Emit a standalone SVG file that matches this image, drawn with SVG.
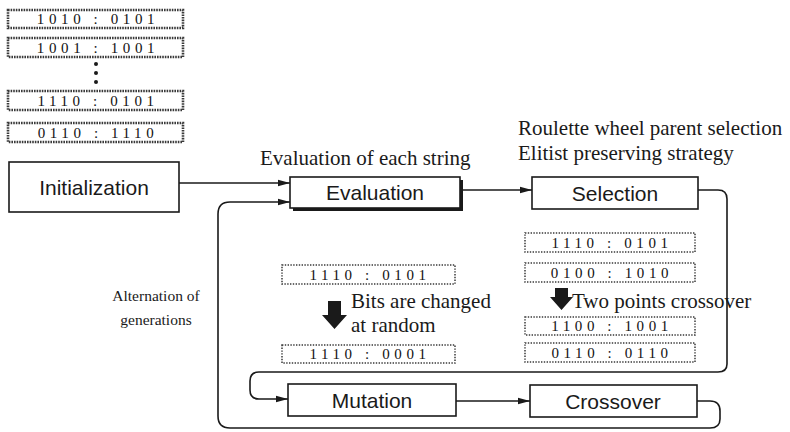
<svg xmlns="http://www.w3.org/2000/svg" width="790" height="432" viewBox="0 0 790 432">
  <style>
    .node { fill: #fff; stroke: #1a1a1a; stroke-width: 1.6; }
    .label { font-family: "Liberation Sans", Arial, sans-serif; font-size: 21px; fill: #1a1a1a; text-anchor: middle; }
    .note { font-family: "Liberation Serif", "Times New Roman", serif; font-size: 21px; fill: #1a1a1a; }
    .small { font-family: "Liberation Serif", "Times New Roman", serif; font-size: 15.5px; fill: #1a1a1a; text-anchor: middle; }
    .wire { fill: none; stroke: #1a1a1a; stroke-width: 1.6; }
    .strA { fill: #fff; stroke: #3a3a3a; stroke-width: 2.6; stroke-dasharray: 1.6 1; }
    .strB { fill: #fff; stroke: #3a3a3a; stroke-width: 1.5; stroke-dasharray: 1.4 1.4; }
    .bits { font-family: "Liberation Serif", "Times New Roman", serif; font-size: 15px; fill: #111; text-anchor: middle; letter-spacing: 4.6px; }
    .under { fill: none; stroke: #555; stroke-width: 1.2; stroke-dasharray: 1.2 2; }
    .block { fill: #1a1a1a; }
  </style>
  <defs>
    <marker id="arrow" viewBox="0 0 12 8" refX="12" refY="4" markerWidth="12" markerHeight="8" markerUnits="userSpaceOnUse" orient="auto">
      <path d="M0,0.8 L12,4 L0,7.2 Z" fill="#1a1a1a"/>
    </marker>
  </defs>

  <rect width="790" height="432" fill="#fff"/>

  <!-- initial population strings -->
  <g id="population">
    <rect class="strA" x="8" y="10" width="175" height="18"/>
    <text class="bits" x="98" y="24">1010 : 0101</text>
    <rect class="strA" x="8" y="38" width="175" height="19"/>
    <text class="bits" x="98" y="53">1001 : 1001</text>
    <circle cx="96" cy="64" r="2" fill="#1a1a1a"/>
    <circle cx="96" cy="73" r="2" fill="#1a1a1a"/>
    <circle cx="96" cy="82" r="2" fill="#1a1a1a"/>
    <rect class="strA" x="8" y="91" width="175" height="19"/>
    <text class="bits" x="98" y="106">1110 : 0101</text>
    <rect class="strA" x="8" y="123" width="175" height="19"/>
    <text class="bits" x="98" y="138">0110 : 1110</text>
  </g>

  <!-- connectors -->
  <g id="connectors">
    <path class="wire" d="M179,183 H290" marker-end="url(#arrow)"/>
    <path class="wire" d="M460,190 H532" marker-end="url(#arrow)"/>
    <path class="wire" d="M698,190 H718 Q727,190 727,199 V364 Q727,372 718,372 H259 Q250,372 250,381 V390 Q250,399 259,399 H288" marker-end="url(#arrow)"/>
    <path class="wire" d="M456,401 H530" marker-end="url(#arrow)"/>
    <path class="wire" d="M697,401 H710 Q720,401 720,411 V419 Q720,428 710,428 H230 Q218,428 218,416 V214 Q218,202 230,202 H290" marker-end="url(#arrow)"/>
  </g>

  <g id="initialization">
    <rect class="node" x="9" y="162" width="170" height="50"/>
    <text class="label" x="94" y="195" font-size="22">Initialization</text>
  </g>

  <g id="evaluation">
    <rect x="293" y="180" width="170" height="31" fill="#1a1a1a"/>
    <rect class="node" x="290" y="177" width="170" height="31"/>
    <text class="label" x="375" y="200">Evaluation</text>
    <text class="note" x="260" y="165">Evaluation of each string</text>
  </g>

  <g id="selection">
    <rect class="node" x="532" y="177" width="166" height="32"/>
    <text class="label" x="615" y="201">Selection</text>
    <text class="note" x="518" y="135">Roulette wheel parent selection</text>
    <text class="note" x="518" y="160">Elitist preserving strategy</text>
  </g>

  <g id="mutation">
    <rect class="node" x="288" y="384" width="168" height="32"/>
    <text class="label" x="372" y="408">Mutation</text>
    <rect class="strB" x="282" y="265" width="173" height="19"/>
    <text class="bits" x="370" y="280">1110 : 0101</text>
    <path class="block" d="M328,301 H341 V315 H347 L334.5,329 L322,315 H328 Z"/>
    <text class="note" x="351" y="308">Bits are changed</text>
    <text class="note" x="351" y="332">at random</text>
    <rect class="strB" x="282" y="345" width="173" height="18"/>
    <text class="bits" x="370" y="359">1110 : 0001</text>
  </g>

  <g id="crossover">
    <rect class="node" x="530" y="385" width="167" height="32"/>
    <text class="label" x="613" y="409">Crossover</text>
    <rect class="strB" x="525" y="233" width="170" height="19"/>
    <text class="bits" x="612" y="248">1110 : 0101</text>
    <rect class="strB" x="525" y="263" width="170" height="19"/>
    <text class="bits" x="612" y="278">0100 : 1010</text>
    <path class="block" d="M555,288 H568 V297 H573 L561.5,310 L550,297 H555 Z"/>
    <text class="note" x="572" y="308">Two points crossover</text>
    <rect class="strB" x="525" y="317" width="170" height="18"/>
    <text class="bits" x="612" y="331">1100 : 1001</text>
    <rect class="strB" x="525" y="343" width="170" height="19"/>
    <text class="bits" x="612" y="358">0110 : 0110</text>
  </g>

  <g id="generations">
    <text class="small" x="156" y="301">Alternation of</text>
    <text class="small" x="156" y="325">generations</text>
  </g>
</svg>
